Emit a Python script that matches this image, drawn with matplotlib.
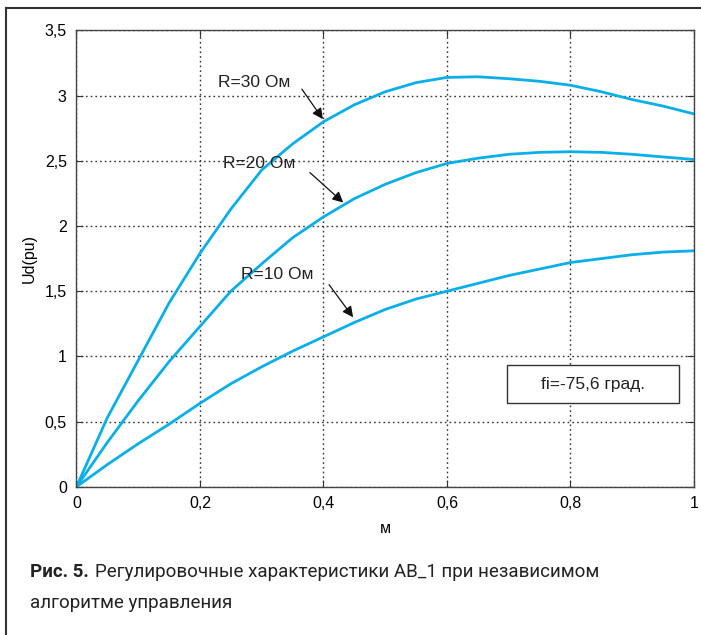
import matplotlib
matplotlib.use("Agg")
import matplotlib.pyplot as plt
from matplotlib.patches import Rectangle
from matplotlib.lines import Line2D
from matplotlib.ticker import FuncFormatter
from matplotlib import font_manager

# modulation index m and Ud(pu)
m = [0, 0.05, 0.10, 0.15, 0.20, 0.25, 0.30, 0.35, 0.40, 0.45, 0.50,
     0.55, 0.60, 0.65, 0.70, 0.75, 0.80, 0.85, 0.90, 0.95, 1.00]
ud_r30 = [0, 0.53, 0.97, 1.41, 1.79, 2.13, 2.43, 2.63, 2.80, 2.93, 3.03,
          3.10, 3.14, 3.145, 3.13, 3.11, 3.08, 3.03, 2.97, 2.92, 2.86]
ud_r20 = [0, 0.34, 0.66, 0.96, 1.23, 1.50, 1.71, 1.91, 2.07, 2.21, 2.32,
          2.41, 2.48, 2.52, 2.55, 2.565, 2.57, 2.565, 2.55, 2.53, 2.51]
ud_r10 = [0, 0.17, 0.33, 0.48, 0.64, 0.79, 0.92, 1.04, 1.15, 1.26, 1.36,
          1.44, 1.50, 1.56, 1.62, 1.67, 1.72, 1.75, 1.78, 1.80, 1.81]

labels = ["R=30 Ом", "R=20 Ом", "R=10 Ом"]
# (text pos, arrow tail, arrow tip) in data units
label_pos = [(0.287, 3.10), (0.296, 2.48), (0.325, 1.625)]
arrow_tail = [(0.365, 3.05), (0.378, 2.41), (0.409, 1.55)]
arrow_tip = [(0.399, 2.82), (0.432, 2.18), (0.448, 1.30)]

xticks = [0, 0.2, 0.4, 0.6, 0.8, 1.0]
yticks = [0, 0.5, 1, 1.5, 2, 2.5, 3, 3.5]

names = {f.name for f in font_manager.fontManager.ttflist}
base_font = "Liberation Sans" if "Liberation Sans" in names else "DejaVu Sans"
cap_font = "Liberation Sans Narrow" if "Liberation Sans Narrow" in names else "Roboto"

plt.rcParams["font.family"] = [base_font, "DejaVu Sans"]

fig = plt.figure(figsize=(7.01, 6.35), dpi=100)
ax = fig.add_axes([0.1091, 0.2335, 0.8809, 0.7185])

blue = "#0aaee8"
for ud in (ud_r30, ud_r20, ud_r10):
    ax.plot(m, ud, color=blue, lw=2, solid_joinstyle="round")

ax.set_xlim(0, 1)
ax.set_ylim(0, 3.5)
ax.set_xticks(xticks)
ax.set_yticks(yticks)
comma = FuncFormatter(lambda v, p: ("%g" % v).replace(".", ","))
ax.xaxis.set_major_formatter(comma)
ax.yaxis.set_major_formatter(comma)
ax.tick_params(direction="in", top=True, right=True, length=5,
               labelsize=11.5, color="#333333", pad=7)
ax.grid(True, linestyle=(0, (1.2, 2.2)), color="#333333", lw=1)
for s in ax.spines.values():
    s.set_color("#444444")
    s.set_linewidth(1)

ax.set_xlabel("м", fontsize=11.5, labelpad=7)
ax.set_ylabel("Ud(pu)", fontsize=11.5, labelpad=6)

for lab, tp, tail, tip in zip(labels, label_pos, arrow_tail, arrow_tip):
    ax.text(tp[0], tp[1], lab, fontsize=12.5, ha="center", va="center",
            color="#222222")
    ax.annotate("", xy=tip, xytext=tail,
                arrowprops=dict(arrowstyle="-|>", color="#111111", lw=0.9,
                                mutation_scale=16, shrinkA=0, shrinkB=0))

ax.add_patch(Rectangle((0.697, 0.64), 0.278, 0.29, facecolor="white",
                       edgecolor="#333333", lw=1, zorder=3))
ax.text(0.836, 0.785, "fi=-75,6 град.", fontsize=12.5, ha="center",
        va="center", zorder=4, color="#222222")

# outer frame (cut off on the right and bottom)
fig.add_artist(Line2D([6 / 701, 6 / 701], [0, 1 - 8 / 635],
                      color="#333333", lw=1.5))
fig.add_artist(Line2D([6 / 701, 1], [1 - 8 / 635, 1 - 8 / 635],
                      color="#333333", lw=1.5))

fig.text(30 / 701, 1 - 572 / 635, "Рис. 5.", fontsize=13.5,
         fontweight="bold", family=cap_font, va="center", color="#222222")
fig.text(95 / 701, 1 - 572 / 635,
         "Регулировочные характеристики АВ_1 при независимом",
         fontsize=13.5, family=cap_font, va="center", color="#222222")
fig.text(30 / 701, 1 - 603 / 635, "алгоритме управления", fontsize=13.5,
         family=cap_font, va="center", color="#222222")

fig.savefig("out.png", dpi=100)
